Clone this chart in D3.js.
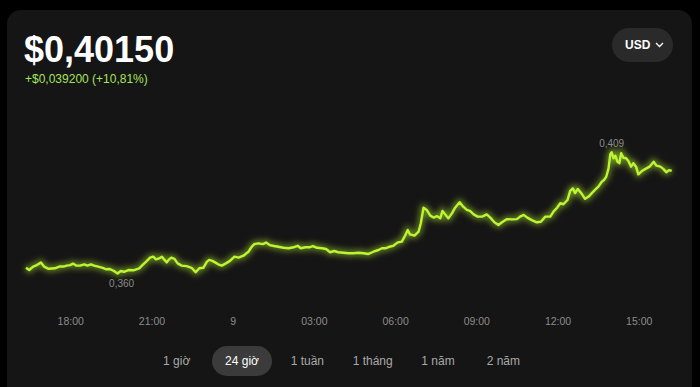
<!DOCTYPE html>
<html>
<head>
<meta charset="utf-8">
<script src="https://cdn.jsdelivr.net/npm/d3@7"></script>
<style>
  html, body { margin: 0; padding: 0; background: #000; }
  svg { display: block; font-family: "Liberation Sans", Arial, sans-serif; }
</style>
</head>
<body>
<svg id="chart"></svg>
<script>
const width = 700;
const height = 387;

const LINE_COLOR = "#bcf531";
const CARD_COLOR = "#151515";
const MUTED = "#8c8c8c";

// header texts
const priceText = "$0,40150";
const changeText = "+$0,039200 (+10,81%)";
const currency = "USD";
const ranges = ["1 giờ", "24 giờ", "1 tuần", "1 tháng", "1 năm", "2 năm"];
const activeRange = "24 giờ";

// price series (day hour:minute)
const times = [
  "8 16:22","8 16:29","8 16:38","8 16:46","8 16:55","8 17:02","8 17:12","8 17:26","8 17:36","8 17:45",
  "8 17:52","8 18:00","8 18:06","8 18:13","8 18:22","8 18:31","8 18:38","8 18:46","8 18:53","8 19:02",
  "8 19:12","8 19:20","8 19:28","8 19:37","8 19:45","8 19:52","8 19:59","8 20:09","8 20:20",
  "8 20:33","8 20:40","8 20:50","8 20:57","8 21:04","8 21:10","8 21:17","8 21:23","8 21:29","8 21:34",
  "8 21:38","8 21:44","8 21:51","8 21:58","8 22:07","8 22:18","8 22:29","8 22:38","8 22:46","8 22:55",
  "8 23:03","8 23:08","8 23:15","8 23:21","8 23:28","8 23:36","8 23:45","8 23:54","9 00:04","9 00:13",
  "9 00:24","9 00:35","9 00:42",
  "9 00:48","9 00:57","9 01:07","9 01:14","9 01:22","9 01:32","9 01:41","9 01:53","9 02:04","9 02:15",
  "9 02:24","9 02:31","9 02:41","9 02:50","9 02:58","9 03:07","9 03:18","9 03:27","9 03:36","9 03:45",
  "9 03:54","9 04:06","9 04:17","9 04:28","9 04:39","9 04:50",
  "9 05:01","9 05:12","9 05:23","9 05:31","9 05:38","9 05:47","9 05:56","9 06:06","9 06:15","9 06:21",
  "9 06:28","9 06:33","9 06:43","9 06:52","9 06:57","9 07:03","9 07:10","9 07:18","9 07:25","9 07:33",
  "9 07:40","9 07:45","9 07:51","9 07:58","9 08:06","9 08:13","9 08:23","9 08:31","9 08:39","9 08:46",
  "9 08:54","9 09:03",
  "9 09:13","9 09:23","9 09:31","9 09:40","9 09:49","9 09:57","9 10:08","9 10:19","9 10:30","9 10:37",
  "9 10:45","9 10:52","9 11:03","9 11:14","9 11:23","9 11:33","9 11:44","9 11:51","9 11:59","9 12:06",
  "9 12:13","9 12:22","9 12:28","9 12:34","9 12:39","9 12:45","9 12:54","9 13:01","9 13:09","9 13:16",
  "9 13:23","9 13:31",
  "9 13:38","9 13:43","9 13:48","9 13:53","9 13:57","9 14:00","9 14:04","9 14:08","9 14:13","9 14:17",
  "9 14:21","9 14:26","9 14:32","9 14:37","9 14:43","9 14:48","9 14:54","9 14:59","9 15:07","9 15:14",
  "9 15:24","9 15:33","9 15:39","9 15:48","9 15:55","9 16:01","9 16:07","9 16:13"
];

const prices = [
  0.3623,0.3614,0.3628,0.3634,0.3644,0.3628,0.3619,0.3621,0.3628,0.3628,
  0.3632,0.3634,0.3640,0.3632,0.3632,0.3637,0.3632,0.3637,0.3632,0.3628,
  0.3623,0.3617,0.3618,0.3610,0.3600,0.3610,0.3607,0.3614,0.3613,
  0.3621,0.3634,0.3651,0.3664,0.3668,0.3657,0.3661,0.3668,0.3655,0.3645,
  0.3655,0.3664,0.3659,0.3641,0.3632,0.3630,0.3623,0.3605,0.3621,0.3623,
  0.3648,0.3655,0.3651,0.3645,0.3637,0.3632,0.3641,0.3651,0.3668,0.3664,
  0.3672,0.3688,0.3708,
  0.3719,0.3722,0.3719,0.3725,0.3715,0.3711,0.3708,0.3704,0.3702,0.3706,
  0.3712,0.3702,0.3706,0.3706,0.3711,0.3704,0.3702,0.3699,0.3686,0.3691,
  0.3686,0.3684,0.3682,0.3682,0.3684,0.3682,
  0.3679,0.3688,0.3695,0.3702,0.3702,0.3708,0.3712,0.3726,0.3729,0.3749,
  0.3776,0.3758,0.3753,0.3769,0.3803,0.3866,0.3857,0.3834,0.3826,0.3832,
  0.3823,0.3853,0.3839,0.3823,0.3843,0.3866,0.3888,0.3870,0.3857,0.3853,
  0.3839,0.3830,
  0.3830,0.3839,0.3826,0.3807,0.3796,0.3807,0.3820,0.3819,0.3820,0.3830,
  0.3837,0.3827,0.3816,0.3807,0.3809,0.3830,0.3830,0.3850,0.3866,0.3884,
  0.3880,0.3897,0.3934,0.3944,0.3925,0.3942,0.3921,0.3902,0.3911,0.3925,
  0.3938,0.3952,
  0.3971,0.3978,0.3991,0.4025,0.4082,0.4090,0.4066,0.4076,0.4052,0.4046,
  0.4086,0.4068,0.4066,0.4055,0.4032,0.4046,0.4032,0.4001,0.4014,0.4022,
  0.4032,0.4052,0.4036,0.4032,0.4022,0.4009,0.4018,0.4015
];

const parseTime = d3.timeParse("%d %H:%M");
const data = times.map((t, i) => ({ date: parseTime(t), value: prices[i] }));

const vi = d3.formatLocale({ decimal: ",", thousands: ".", grouping: [3], currency: ["$", ""] });
const fmtLabel = vi.format(".3f");

const svg = d3.select("#chart")
  .attr("width", width)
  .attr("height", height);

// card
svg.append("rect")
  .attr("x", 7).attr("y", 10)
  .attr("width", 685).attr("height", 400)
  .attr("rx", 14)
  .attr("fill", CARD_COLOR);

// header
svg.append("text")
  .attr("x", 24).attr("y", 62)
  .attr("fill", "#fff")
  .attr("font-size", 36)
  .attr("font-weight", "bold")
  .text(priceText);

svg.append("text")
  .attr("x", 25).attr("y", 83)
  .attr("fill", "#a6e35c")
  .attr("font-size", 12)
  .text(changeText);

// currency button
const btn = svg.append("g").attr("transform", "translate(612,28)");
btn.append("rect")
  .attr("width", 61).attr("height", 34)
  .attr("rx", 17)
  .attr("fill", "#2a2a2a");
btn.append("text")
  .attr("x", 13).attr("y", 21)
  .attr("fill", "#fff")
  .attr("font-size", 12)
  .attr("font-weight", "bold")
  .text(currency);
btn.append("path")
  .attr("d", "M44,15 L47.5,18.5 L51,15")
  .attr("fill", "none")
  .attr("stroke", "#fff")
  .attr("stroke-width", 1.3);

// scales
const x = d3.scaleTime()
  .domain(d3.extent(data, d => d.date))
  .range([26, 671.7]);

const y = d3.scaleLinear()
  .domain(d3.extent(data, d => d.value))
  .range([273.5, 152.3]);

// glow filter
const defs = svg.append("defs");
const glow = defs.append("filter")
  .attr("id", "glow")
  .attr("x", "-10%").attr("y", "-50%")
  .attr("width", "120%").attr("height", "200%");
glow.append("feGaussianBlur").attr("stdDeviation", 3);

const line = d3.line()
  .x(d => x(d.date))
  .y(d => y(d.value));

svg.append("path")
  .datum(data)
  .attr("d", line)
  .attr("fill", "none")
  .attr("stroke", LINE_COLOR)
  .attr("stroke-width", 5)
  .attr("stroke-opacity", 0.6)
  .attr("filter", "url(#glow)");

svg.append("path")
  .datum(data)
  .attr("d", line)
  .attr("fill", "none")
  .attr("stroke", LINE_COLOR)
  .attr("stroke-width", 2.4)
  .attr("stroke-linejoin", "round");

// min / max labels
const minPt = data.reduce((a, b) => b.value < a.value ? b : a);
const maxPt = data.reduce((a, b) => b.value > a.value ? b : a);

svg.append("text")
  .attr("x", x(minPt.date) + 4).attr("y", y(minPt.value) + 13)
  .attr("text-anchor", "middle")
  .attr("fill", MUTED)
  .attr("font-size", 10)
  .text(fmtLabel(minPt.value));

svg.append("text")
  .attr("x", x(maxPt.date)).attr("y", y(maxPt.value) - 5)
  .attr("text-anchor", "middle")
  .attr("fill", MUTED)
  .attr("font-size", 10)
  .text(fmtLabel(maxPt.value));

// time axis
const tickFormat = d => d.getHours() === 0 ? d3.timeFormat("%-d")(d) : d3.timeFormat("%H:%M")(d);

const axis = svg.append("g")
  .attr("transform", "translate(0,315)")
  .call(d3.axisBottom(x).ticks(d3.timeHour.every(3)).tickFormat(tickFormat).tickSize(0));

axis.select(".domain").remove();
axis.selectAll("text")
  .attr("fill", MUTED)
  .attr("font-size", 10.5)
  .attr("font-family", "Liberation Sans, Arial, sans-serif");

// range buttons
const bx = d3.scalePoint()
  .domain(ranges)
  .range([176.7, 503.3]);

const rb = svg.append("g").selectAll("g")
  .data(ranges)
  .join("g")
  .attr("transform", d => `translate(${bx(d)},361)`);

rb.filter(d => d === activeRange)
  .append("rect")
  .attr("x", -30).attr("y", -15)
  .attr("width", 60).attr("height", 30)
  .attr("rx", 15)
  .attr("fill", "#3b3b3b");

rb.append("text")
  .attr("text-anchor", "middle")
  .attr("dy", "0.35em")
  .attr("font-size", 12)
  .attr("fill", d => d === activeRange ? "#fff" : "#a9a9a9")
  .text(d => d);
</script>
</body>
</html>
